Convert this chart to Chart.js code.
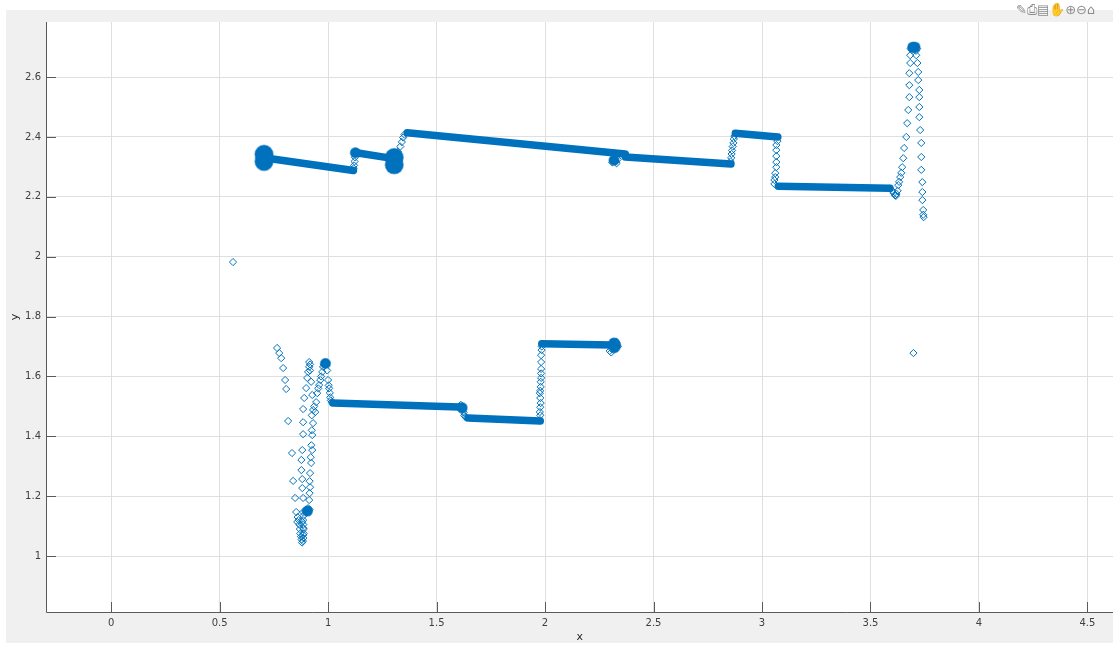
<!DOCTYPE html>
<html>
<head>
<meta charset="utf-8">
<script src="https://cdn.jsdelivr.net/npm/chart.js@4.4.1/dist/chart.umd.min.js"></script>
<style>
  html, body { margin: 0; padding: 0; background: #ffffff; overflow: hidden; }
  #wrap { position: relative; width: 1124px; height: 645px; }
</style>
</head>
<body>
<div id="wrap"><canvas id="c"></canvas></div>
<script>
// ---- axis ticks ----
const xTickValues = [0, 0.5, 1, 1.5, 2, 2.5, 3, 3.5, 4, 4.5];
const xTickLabels = ['0', '0.5', '1', '1.5', '2', '2.5', '3', '3.5', '4', '4.5'];
const yTickValues = [1, 1.2, 1.4, 1.6, 1.8, 2, 2.2, 2.4, 2.6];
const yTickLabels = ['1', '1.2', '1.4', '1.6', '1.8', '2', '2.2', '2.4', '2.6'];

// ---- densely sampled runs (upper track) ----
const runA = [[0.720, 2.329], [1.117, 2.288]];
const runB = [[1.130, 2.347], [1.280, 2.330]];
const runC = [[1.365, 2.414], [2.370, 2.343]];
const runD = [[2.370, 2.333], [2.857, 2.310]];
const runE = [[2.877, 2.412], [3.073, 2.400]];
const runF = [[3.075, 2.235], [3.590, 2.229]];

// ---- densely sampled runs (lower track) ----
const runG = [[1.022, 1.511], [1.605, 1.498]];
const runH = [[1.645, 1.461], [1.978, 1.451]];
const runI = [[1.985, 1.709], [2.310, 1.705]];

// ---- tight clusters of samples ----
const clustersLarge = [[0.705, 2.342], [0.705, 2.318], [1.305, 2.331], [1.305, 2.307]];
const clustersSmall = [
  [1.126, 2.347], [2.318, 2.322], [3.695, 2.700], [3.705, 2.700],
  [0.905, 1.150], [0.988, 1.643], [1.618, 1.495],
  [2.318, 1.712], [2.326, 1.703], [2.320, 1.696]
];

// ---- individual samples (upper track) ----
const upperSamples = [
  [1.118, 2.295], [1.120, 2.305], [1.122, 2.318], [1.124, 2.332], [1.126, 2.345],
  [1.322, 2.350], [1.333, 2.368], [1.340, 2.383], [1.346, 2.398], [1.352, 2.408],
  [2.310, 2.315], [2.325, 2.318], [2.335, 2.325], [2.330, 2.312],
  [2.855, 2.318], [2.858, 2.330], [2.860, 2.343], [2.862, 2.355], [2.865, 2.368],
  [2.868, 2.380], [2.870, 2.393], [2.873, 2.403],
  [3.071, 2.386], [3.066, 2.373], [3.066, 2.356], [3.066, 2.336], [3.066, 2.316],
  [3.066, 2.299], [3.061, 2.279], [3.061, 2.266], [3.057, 2.256], [3.057, 2.243],
  [3.590, 2.228], [3.600, 2.220], [3.607, 2.212], [3.613, 2.205], [3.617, 2.203],
  [3.620, 2.210], [3.625, 2.220],
  [3.615, 2.206], [3.628, 2.239], [3.632, 2.250], [3.637, 2.266], [3.642, 2.280],
  [3.646, 2.299], [3.651, 2.329], [3.655, 2.363], [3.665, 2.400], [3.669, 2.446],
  [3.674, 2.490], [3.679, 2.533], [3.679, 2.573], [3.679, 2.613], [3.683, 2.647],
  [3.683, 2.673],
  [3.685, 2.695], [3.690, 2.700], [3.697, 2.703], [3.703, 2.703], [3.710, 2.700],
  [3.715, 2.695], [3.690, 2.690], [3.710, 2.688],
  [3.711, 2.673], [3.716, 2.647], [3.720, 2.617], [3.720, 2.590], [3.725, 2.557],
  [3.725, 2.533], [3.725, 2.500], [3.725, 2.466], [3.729, 2.423], [3.734, 2.380],
  [3.734, 2.333], [3.734, 2.290], [3.739, 2.249], [3.739, 2.216], [3.739, 2.189],
  [3.743, 2.156], [3.743, 2.140], [3.745, 2.132]
];

// ---- individual samples (lower track) ----
const lowerSamples = [
  [0.765, 1.695], [0.775, 1.678], [0.784, 1.661], [0.793, 1.628], [0.802, 1.588],
  [0.807, 1.558], [0.816, 1.451], [0.834, 1.344], [0.839, 1.251], [0.848, 1.194],
  [0.853, 1.147], [0.858, 1.114],
  [0.860, 1.130], [0.865, 1.120], [0.868, 1.105], [0.870, 1.090], [0.872, 1.075],
  [0.875, 1.065], [0.878, 1.055], [0.880, 1.045], [0.884, 1.050], [0.886, 1.060],
  [0.888, 1.075], [0.888, 1.090], [0.886, 1.105], [0.885, 1.120], [0.887, 1.135],
  [0.895, 1.150], [0.900, 1.145], [0.910, 1.150], [0.915, 1.155],
  [0.885, 1.070], [0.885, 1.094], [0.881, 1.114], [0.885, 1.147], [0.885, 1.194],
  [0.881, 1.227], [0.881, 1.257], [0.877, 1.287], [0.877, 1.321], [0.881, 1.354],
  [0.885, 1.407], [0.885, 1.447], [0.885, 1.491], [0.890, 1.528], [0.899, 1.561],
  [0.904, 1.595], [0.908, 1.615], [0.913, 1.632], [0.913, 1.648],
  [0.917, 1.640], [0.917, 1.620], [0.922, 1.582], [0.927, 1.538], [0.931, 1.488],
  [0.931, 1.444], [0.927, 1.404], [0.927, 1.354], [0.922, 1.311], [0.917, 1.277],
  [0.917, 1.230], [0.913, 1.187], [0.908, 1.160],
  [0.925, 1.470], [0.925, 1.420], [0.923, 1.370], [0.920, 1.330], [0.915, 1.250],
  [0.915, 1.210],
  [0.936, 1.500], [0.941, 1.481], [0.945, 1.514], [0.950, 1.544], [0.955, 1.560],
  [0.959, 1.571], [0.964, 1.588], [0.968, 1.600], [0.973, 1.615], [0.977, 1.632],
  [0.982, 1.640],
  [0.996, 1.620], [1.000, 1.588], [1.003, 1.570], [1.005, 1.560], [1.008, 1.545],
  [1.010, 1.530], [1.013, 1.520], [1.016, 1.514],
  [1.605, 1.500], [1.612, 1.505], [1.618, 1.500], [1.622, 1.490], [1.625, 1.480],
  [1.628, 1.470], [1.632, 1.465], [1.638, 1.462],
  [1.976, 1.454], [1.978, 1.470], [1.976, 1.481], [1.978, 1.497], [1.980, 1.511],
  [1.978, 1.528], [1.976, 1.544], [1.978, 1.552], [1.980, 1.565], [1.980, 1.582],
  [1.982, 1.595], [1.982, 1.610], [1.982, 1.625], [1.982, 1.648], [1.982, 1.671],
  [1.984, 1.688], [1.985, 1.700],
  [2.298, 1.685], [2.305, 1.680], [2.310, 1.690], [2.330, 1.715], [2.335, 1.700]
];

// ---- outliers ----
const strays = [[0.562, 1.982], [3.698, 1.678]];

// ---------------------------------------------------------------
const BLUE = '#0072BD';
const toXY = arr => arr.map(p => ({ x: p[0], y: p[1] }));

const runDataset = arr => ({
  data: toXY(arr), showLine: true, borderColor: BLUE, borderWidth: 7.5,
  borderCapStyle: 'round', pointRadius: 0, pointHoverRadius: 0, fill: false
});
const markerDataset = arr => ({
  data: toXY(arr), showLine: false, pointStyle: 'rectRot', pointRadius: 3.6,
  pointBorderWidth: 1, pointBorderColor: BLUE, pointBackgroundColor: 'rgba(0,0,0,0)'
});
const clusterDataset = (arr, r) => ({
  data: toXY(arr), showLine: false, pointStyle: 'circle', pointRadius: r,
  pointBorderWidth: 1.5, pointBorderColor: 'rgba(0,114,189,0.5)', pointBackgroundColor: BLUE
});

const datasets = [
  markerDataset(upperSamples),
  markerDataset(lowerSamples),
  markerDataset(strays),
  clusterDataset(clustersSmall, 5),
  clusterDataset(clustersLarge, 9),
  ...[runA, runB, runC, runD, runE, runF, runG, runH, runI].map(runDataset)
];

const AXIS = '#5a5a5a';
const TEXT = '#404040';

// figure panel, white plot box, inward ticks, axis lines and toolbar glyphs
const framePlugin = {
  id: 'frame',
  beforeDraw(chart) {
    const { ctx, chartArea: a } = chart;
    ctx.save();
    ctx.fillStyle = '#f0f0f0';
    ctx.fillRect(6, 10, chart.width - 6, 633);
    ctx.fillStyle = '#ffffff';
    ctx.fillRect(a.left, a.top, a.right - a.left, a.bottom - a.top);
    ctx.restore();
  },
  afterDraw(chart) {
    const { ctx, chartArea: a, scales } = chart;
    ctx.save();
    ctx.strokeStyle = AXIS;
    ctx.lineWidth = 1;
    ctx.beginPath();
    ctx.moveTo(a.left + 0.5, a.top);
    ctx.lineTo(a.left + 0.5, a.bottom + 0.5);
    ctx.lineTo(a.right, a.bottom + 0.5);
    xTickValues.forEach(v => {
      const px = Math.round(scales.x.getPixelForValue(v)) + 0.5;
      ctx.moveTo(px, a.bottom);
      ctx.lineTo(px, a.bottom - 10);
    });
    yTickValues.forEach(v => {
      const py = Math.round(scales.y.getPixelForValue(v)) + 0.5;
      ctx.moveTo(a.left, py);
      ctx.lineTo(a.left + 10, py);
    });
    ctx.stroke();
    ctx.fillStyle = '#8c8c8c';
    ctx.font = '13px "DejaVu Sans"';
    ctx.textBaseline = 'middle';
    ctx.fillText('✎⎙▤✋⊕⊖⌂', 1016, 11);
    ctx.restore();
  }
};

new Chart(document.getElementById('c'), {
  type: 'scatter',
  data: { datasets },
  plugins: [framePlugin],
  options: {
    responsive: true,
    maintainAspectRatio: false,
    animation: false,
    events: [],
    layout: { padding: { top: 22, left: 0, right: 0, bottom: 0 } },
    plugins: { legend: { display: false }, tooltip: { enabled: false } },
    scales: {
      x: {
        type: 'linear', min: -0.3, max: 4.62,
        afterBuildTicks: s => { s.ticks = xTickValues.map(v => ({ value: v })); },
        afterFit: s => { s.height = 33; },
        ticks: {
          autoSkip: false, maxRotation: 0, padding: 5, color: TEXT,
          font: { family: 'DejaVu Sans', size: 10 },
          callback: (v, i) => xTickLabels[i]
        },
        grid: { color: '#dfdfdf', lineWidth: 1, drawTicks: false },
        border: { display: false },
        title: {
          display: true, text: 'x', color: '#262626',
          font: { family: 'DejaVu Sans', size: 11 }, padding: { top: 0, bottom: 1 }
        }
      },
      y: {
        type: 'linear', min: 0.813, max: 2.784,
        afterBuildTicks: s => { s.ticks = yTickValues.map(v => ({ value: v })); },
        afterFit: s => { s.width = 46; },
        ticks: {
          autoSkip: false, padding: 5, color: TEXT,
          font: { family: 'DejaVu Sans', size: 10 },
          callback: (v, i) => yTickLabels[i]
        },
        grid: { color: '#dfdfdf', lineWidth: 1, drawTicks: false },
        border: { display: false },
        title: {
          display: true, text: 'y', color: '#262626',
          font: { family: 'DejaVu Sans', size: 11 }, padding: { top: 9, bottom: 0 }
        }
      }
    }
  }
});
</script>
</body>
</html>
